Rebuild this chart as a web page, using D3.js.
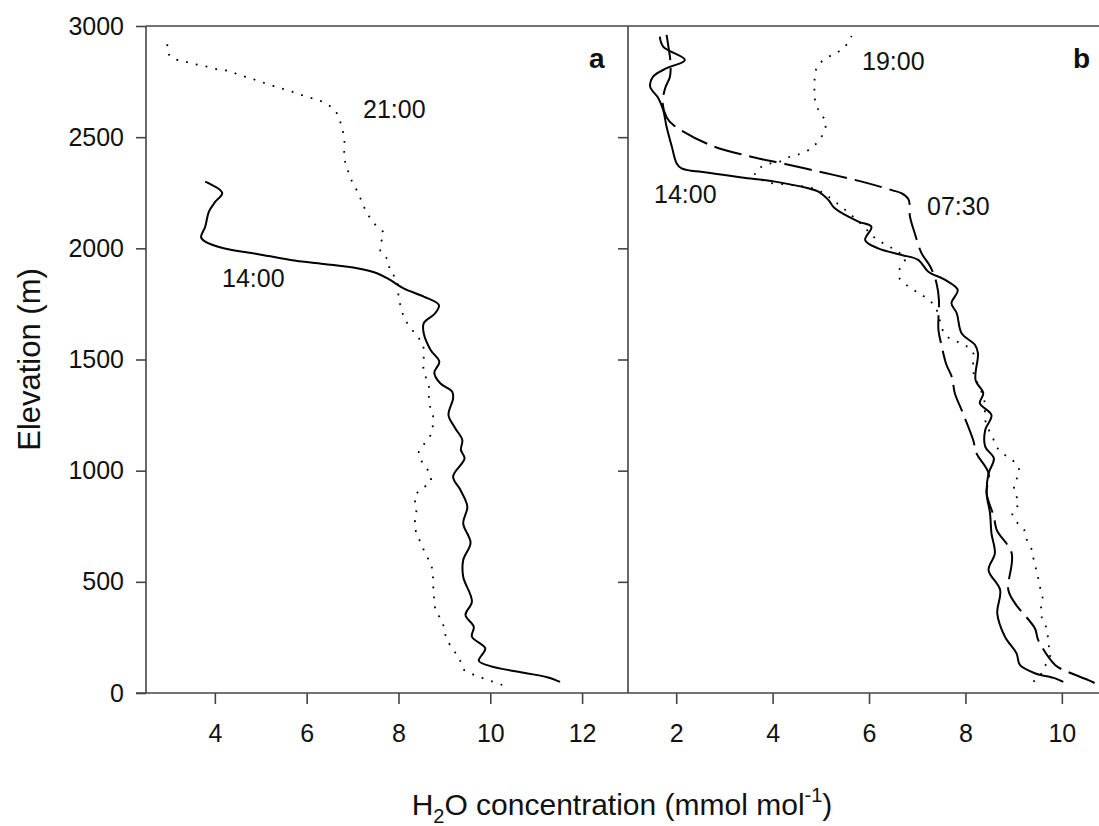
<!DOCTYPE html>
<html>
<head>
<meta charset="utf-8">
<script src="https://cdn.jsdelivr.net/npm/d3@7"></script>
<style>
  body { margin: 0; background: #fff; }
  svg text { font-family: "Liberation Sans", Arial, sans-serif; fill: #111; }
</style>
</head>
<body>
<svg width="1099" height="826"></svg>
<script>
// panel a, [H2O mmol/mol, elevation m]
let a1400 = [[11.52,50],[11.24,71],[10.73,91],[10.0,121],[9.75,145],[9.89,201],[9.6,253],[9.64,298],[9.46,351],[9.6,411],
  [9.41,523],[9.41,598],[9.57,676],[9.41,763],[9.5,838],[9.35,913],[9.19,973],[9.44,1055],[9.36,1093],[9.39,1138],
  [9.24,1190],[9.09,1250],[9.19,1325],[9.17,1355],[8.91,1393],[8.78,1440],[8.89,1490],[8.7,1543],[8.55,1618],
  [8.55,1663],[8.8,1708],[8.88,1745],[8.55,1783],[8.11,1820],[7.79,1861],[7.53,1888],[7.1,1910],[6.37,1930],
  [5.65,1948],[4.92,1975],[4.19,2000],[3.79,2030],[3.7,2050],[3.79,2097],[3.87,2165],[4.01,2210],[4.16,2249],[3.79,2300]];

let a2100 = [[10.26,36],[10.04,52],[9.82,68],[9.62,84],[9.41,108],[9.33,152],[9.2,193],[9.06,238],[9.0,280],[8.95,324],
  [8.82,366],[8.78,408],[8.77,451],[8.75,496],[8.75,538],[8.7,583],[8.59,624],[8.5,669],[8.41,711],[8.35,752],
  [8.38,796],[8.39,838],[8.35,883],[8.52,921],[8.7,948],[8.67,991],[8.52,1036],[8.44,1081],[8.57,1123],[8.72,1168],
  [8.75,1210],[8.75,1254],[8.68,1295],[8.66,1340],[8.66,1381],[8.59,1423],[8.54,1468],[8.55,1513],[8.54,1558],
  [8.43,1600],[8.26,1643],[8.13,1685],[8.06,1730],[8.01,1771],[7.99,1813],[7.97,1858],[7.81,1900],[7.79,1943],
  [7.61,1985],[7.62,2026],[7.68,2068],[7.5,2105],[7.34,2150],[7.24,2190],[7.15,2235],[7.05,2278],[6.94,2322],
  [6.88,2365],[6.82,2405],[6.82,2450],[6.82,2495],[6.77,2540],[6.71,2582],[6.61,2622],[6.41,2652],[6.21,2670],
  [5.99,2682],[5.79,2697],[5.57,2712],[5.37,2724],[5.16,2738],[4.94,2753],[4.74,2768],[4.52,2780],[4.32,2798],
  [4.11,2802],[3.9,2814],[3.69,2823],[3.48,2832],[3.29,2844],[3.07,2855],[2.96,2892],[2.99,2937]];

// panel b
let b1400 = [[10.03,50],[9.86,66],[9.44,89],[9.13,126],[9.06,178],[8.82,253],[8.66,358],[8.72,463],[8.48,553],[8.61,628],
  [8.54,718],[8.51,808],[8.44,898],[8.48,988],[8.59,1055],[8.41,1108],[8.41,1183],[8.54,1250],[8.3,1303],[8.37,1348],
  [8.21,1408],[8.26,1528],[8.2,1565],[7.92,1618],[7.82,1708],[7.71,1753],[7.84,1813],[7.58,1858],[7.23,1895],
  [7.02,1948],[6.68,1970],[6.19,2000],[5.92,2037],[6.05,2097],[5.78,2120],[5.29,2180],[5.16,2217],[4.95,2255],
  [4.74,2270],[4.05,2300],[3.36,2319],[2.67,2340],[2.11,2360],[2.01,2382],[1.91,2457],[1.8,2547],[1.73,2622],
  [1.63,2675],[1.46,2727],[1.52,2772],[1.8,2810],[2.18,2847],[1.73,2907],[1.66,2952]];

let b0730 = [[10.68,45],[10.55,58],[10.07,100],[9.86,126],[9.51,238],[9.44,291],[9.03,403],[8.89,463],[8.96,628],
  [8.65,733],[8.59,793],[8.44,898],[8.48,988],[8.23,1078],[8.16,1138],[7.92,1273],[7.78,1348],[7.72,1420],
  [7.6,1480],[7.51,1558],[7.44,1633],[7.45,1768],[7.4,1843],[7.27,1918],[7.09,1978],[6.95,2067],[6.85,2142],
  [6.82,2220],[6.68,2247],[6.47,2262],[5.85,2300],[5.07,2340],[4.26,2379],[3.5,2415],[2.7,2465],[1.94,2555],
  [1.8,2590],[1.72,2650],[1.77,2720],[1.87,2772],[1.88,2840],[1.84,2905],[1.8,2960]];

let b1900 = [[9.41,51],[9.58,89],[9.68,134],[9.76,171],[9.73,211],[9.71,253],[9.67,298],[9.58,343],[9.57,388],[9.6,430],
  [9.55,474],[9.51,516],[9.46,561],[9.41,606],[9.37,648],[9.27,691],[9.22,733],[9.06,770],[8.97,811],[9.11,853],
  [9.03,898],[9.01,943],[9.12,988],[9.06,1030],[8.88,1060],[8.67,1100],[8.57,1146],[8.48,1186],[8.41,1228],
  [8.39,1318],[8.16,1445],[8.16,1486],[8.16,1531],[7.99,1565],[7.78,1585],[7.58,1611],[7.37,1738],[7.19,1776],
  [7.01,1801],[6.8,1831],[6.62,1870],[6.64,1910],[6.75,1955],[6.55,1990],[6.37,2015],[6.16,2040],[5.81,2115],
  [5.16,2232],[4.9,2265],[4.4,2285],[3.85,2300],[3.63,2337],[3.77,2367],[3.96,2382],[4.15,2390],[4.36,2412],
  [4.57,2425],[4.78,2447],[4.94,2480],[5.07,2525],[5.1,2570],[4.98,2610],[4.89,2655],[4.87,2697],[4.87,2742],
  [4.88,2787],[4.95,2825],[5.14,2859],[5.33,2880],[5.5,2907],[5.64,2955]];

let elevTicks = [0, 500, 1000, 1500, 2000, 2500, 3000];
let ticksA = [4, 6, 8, 10, 12];
let ticksB = [2, 4, 6, 8, 10];

let svg = d3.select("svg");
let plotTop = 26, plotBottom = 693, plotLeft = 146, plotMid = 628, plotRight = 1098;

let y = d3.scaleLinear().domain([0, 3000]).range([plotBottom, plotTop]);
let xA = d3.scaleLinear().domain([2.5, 13]).range([plotLeft, plotMid]);
let xB = d3.scaleLinear().domain([1, 10.75]).range([plotMid, plotRight]);

let axisColor = "#444";

// frame
let frame = svg.append("g").attr("stroke", axisColor).attr("stroke-width", 1.6);
frame.append("line").attr("x1", 136).attr("x2", 1099).attr("y1", plotBottom).attr("y2", plotBottom);
frame.append("line").attr("x1", plotLeft).attr("x2", 1099).attr("y1", plotTop).attr("y2", plotTop);
frame.append("line").attr("x1", plotLeft).attr("x2", plotLeft).attr("y1", plotTop).attr("y2", plotBottom);
frame.append("line").attr("x1", plotMid).attr("x2", plotMid).attr("y1", plotTop).attr("y2", plotBottom);

function styleAxis(g) {
  g.select(".domain").remove();
  g.selectAll(".tick line").attr("stroke", axisColor).attr("stroke-width", 1.6);
  g.selectAll(".tick text").style("font-size", "25px").attr("fill", "#111");
}

// y axis
svg.append("g")
  .attr("transform", "translate(" + plotLeft + ",0)")
  .call(d3.axisLeft(y).tickValues(elevTicks).tickSize(10).tickPadding(12).tickFormat(d3.format("d")))
  .call(styleAxis);

// inner ticks on right side of panel a
svg.append("g")
  .attr("transform", "translate(" + plotMid + ",0)")
  .call(d3.axisLeft(y).tickValues(elevTicks.slice(1, 6)).tickSize(10).tickFormat(""))
  .call(styleAxis);

// x axes
svg.append("g")
  .attr("transform", "translate(0," + plotBottom + ")")
  .call(d3.axisBottom(xA).tickValues(ticksA).tickSize(11).tickPadding(20))
  .call(styleAxis);

svg.append("g")
  .attr("transform", "translate(0," + plotBottom + ")")
  .call(d3.axisBottom(xB).tickValues(ticksB).tickSize(11).tickPadding(20))
  .call(styleAxis);

// lines
function drawLine(data, x, dash, width) {
  let line = d3.line()
    .x(function(d) { return x(d[0]); })
    .y(function(d) { return y(d[1]); })
    .curve(d3.curveCatmullRom.alpha(0.5));
  svg.append("path")
    .datum(data)
    .attr("fill", "none")
    .attr("stroke", "#000")
    .attr("stroke-width", width)
    .attr("stroke-dasharray", dash)
    .attr("d", line);
}

drawLine(a2100, xA, "1.8,8.2", 1.8);
drawLine(a1400, xA, null, 2);
drawLine(b1900, xB, "1.8,8.2", 1.8);
drawLine(b0730, xB, "28,8", 2);
drawLine(b1400, xB, null, 2);

// annotations
function label(x, yy, txt, size, bold) {
  svg.append("text")
    .attr("x", x).attr("y", yy)
    .style("font-size", size + "px")
    .style("font-weight", bold ? "bold" : "normal")
    .text(txt);
}
label(363, 118, "21:00", 25);
label(222, 287, "14:00", 25);
label(862, 70, "19:00", 25);
label(654, 203, "14:00", 25);
label(927, 215, "07:30", 25);
label(589, 68, "a", 28, true);
label(1073, 68, "b", 28, true);

// axis titles
svg.append("text")
  .attr("text-anchor", "middle")
  .style("font-size", "31px")
  .attr("transform", "translate(40," + ((plotTop + plotBottom) / 2) + ") rotate(-90)")
  .text("Elevation (m)");

let xt = svg.append("text")
  .attr("x", 622).attr("y", 815)
  .attr("text-anchor", "middle")
  .style("font-size", "30px");
xt.append("tspan").text("H");
xt.append("tspan").attr("dy", 8).style("font-size", "20px").text("2");
xt.append("tspan").attr("dy", -8).text("O concentration (mmol mol");
xt.append("tspan").attr("dy", -13).style("font-size", "20px").text("-1");
xt.append("tspan").attr("dy", 13).text(")");
</script>
</body>
</html>
